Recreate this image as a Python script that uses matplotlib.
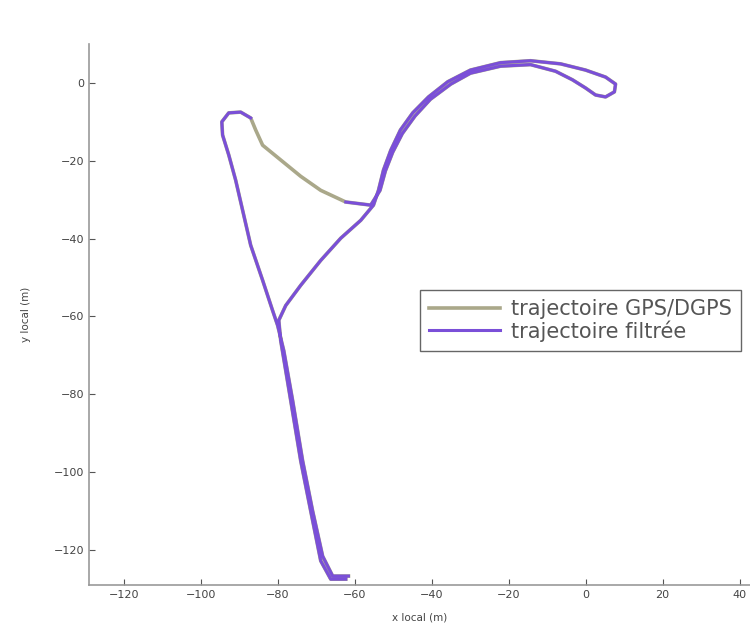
import numpy as np
import matplotlib
matplotlib.use('Agg')
import matplotlib.pyplot as plt

# trajectory (metres, local frame)
gps_x = [-62.3, -66.2, -68.8, -71.4, -74.0, -76.6, -79.2, -79.7,
         -77.9, -74.0, -68.8, -63.6, -58.4, -55.1,
         -53.8, -52.5, -50.6, -48.1, -44.9, -40.8, -35.8, -29.9, -22.1, -14.3,
         -6.5, 0.0, 5.2, 7.8, 7.5, 5.2, 2.6, 0.0, -3.4,
         -7.8, -14.3, -22.1, -29.9, -35.0, -40.3, -44.3, -47.6, -50.1, -52.0, -53.4, -55.8,
         -62.3, -68.8, -74.0, -79.2, -83.9, -85.7, -87.0, -89.6, -92.7, -94.5,
         -94.3, -92.7, -90.9, -89.1, -87.0, -83.9, -81.3, -80.0,
         -78.4, -76.1, -73.5, -70.9, -68.3, -65.7, -61.6]
gps_y = [-127.5, -127.5, -122.8, -110.0, -97.1, -81.6, -66.2, -61.0,
         -57.2, -52.0, -45.6, -39.9, -35.3, -31.4,
         -27.6, -22.4, -17.3, -12.1, -7.7, -3.6, 0.3, 3.3, 5.2, 5.7,
         4.9, 3.3, 1.5, -0.3, -2.3, -3.6, -3.1, -1.3, 0.8,
         3.0, 4.7, 4.3, 2.5, -0.3, -4.2, -8.5, -13.0, -17.8, -22.6, -27.6, -31.4,
         -30.6, -27.6, -24.0, -19.8, -16.0, -12.1, -9.0, -7.5, -7.7, -10.0,
         -13.4, -18.5, -25.0, -32.7, -41.7, -50.7, -58.5, -62.3,
         -68.8, -81.6, -97.1, -110.0, -121.6, -126.7, -126.7]

# filtered trajectory: same route, missing between the left loop and the crossing
gap = range(46, 51)
filt_x = [np.nan if i in gap else v for i, v in enumerate(gps_x)]
filt_y = [np.nan if i in gap else v for i, v in enumerate(gps_y)]

x_ticks = [-120, -100, -80, -60, -40, -20, 0, 20, 40]
y_ticks = [-120, -100, -80, -60, -40, -20, 0]

plt.rcParams['font.family'] = ['DejaVu Sans']

fig = plt.figure(figsize=(7.5, 6.24), dpi=100)
ax = fig.add_axes([0.1187, 0.0625, 0.8827, 0.867])

ax.plot(gps_x, gps_y, '-', color='#aaa88a', lw=2.6, label='trajectoire GPS/DGPS')
ax.plot(filt_x, filt_y, '-', color='#7a4fd8', lw=2.2, label='trajectoire filtrée')

ax.set_xlim(-129, 43)
ax.set_ylim(-129, 10)
ax.set_xticks(x_ticks)
ax.set_yticks(y_ticks)
ax.tick_params(direction='in', length=4, labelsize=8, colors='#555555', labelcolor='#444444')
for s in ['top', 'right']:
    ax.spines[s].set_visible(False)
for s in ['left', 'bottom']:
    ax.spines[s].set_color('#999999')
    ax.spines[s].set_linewidth(1.2)

ax.set_xlabel('x local (m)', fontsize=7.5, color='#444444', labelpad=9)
ax.set_ylabel('y local (m)', fontsize=7.5, color='#444444', labelpad=16)

leg = ax.legend(loc='upper left', bbox_to_anchor=(0.5, 0.546), fontsize=15,
                fancybox=False, framealpha=1, edgecolor='#666666',
                handlelength=3.4, borderpad=0.45, labelspacing=0.05,
                handletextpad=0.5, borderaxespad=0)
for t in leg.get_texts():
    t.set_color('#555555')

plt.savefig('out.png', dpi=100)
